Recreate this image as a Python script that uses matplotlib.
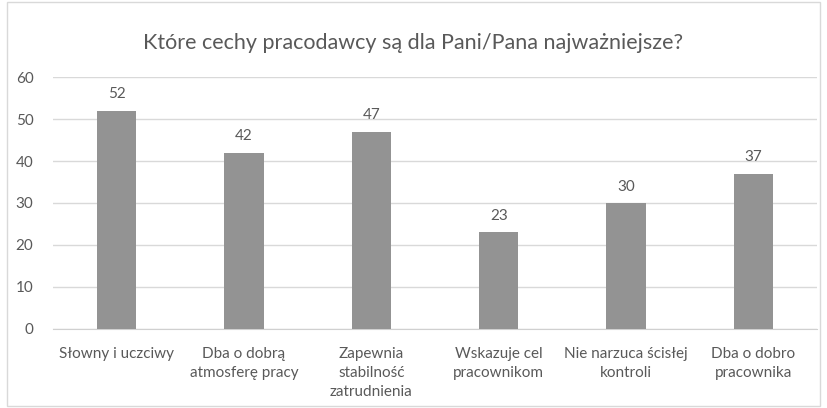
import matplotlib.pyplot as plt
from matplotlib.patches import Rectangle

categories = ["Słowny i uczciwy", "Dba o dobrą\natmosferę pracy", "Zapewnia\nstabilność\nzatrudnienia",
              "Wskazuje cel\npracownikom", "Nie narzuca ścisłej\nkontroli", "Dba o dobro\npracownika"]
values = [52, 42, 47, 23, 30, 37]

plt.rcParams['font.family'] = ['Lato', 'DejaVu Sans']
txt = '#595959'

fig = plt.figure(figsize=(8.27, 4.08), dpi=100)
ax = fig.add_axes([0.064, 0.194, 0.924, 0.617])

x = range(len(categories))
bars = ax.bar(x, values, width=0.31, color='#939393', zorder=3)
for b, v in zip(bars, values):
    ax.text(b.get_x() + b.get_width() / 2, v + 2.2, str(v), ha='center', va='bottom',
            fontsize=11, color=txt)

ax.set_xlim(-0.5, len(categories) - 0.5)
ax.set_ylim(0, 60)
ax.set_yticks(range(0, 61, 10))
ax.set_xticks(list(x))
ax.set_xticklabels(categories, fontsize=11, color=txt, linespacing=1.45)
ax.tick_params(axis='y', labelsize=11, labelcolor=txt, length=0, pad=14)
ax.tick_params(axis='x', length=0, pad=13)
ax.grid(axis='y', color='#d9d9d9', linewidth=1, zorder=0)
for s in ['left', 'right', 'top']:
    ax.spines[s].set_visible(False)
ax.spines['bottom'].set_color('#d0d0d0')

fig.text(0.5, 0.895, "Które cechy pracodawcy są dla Pani/Pana najważniejsze?", ha='center',
         va='center', fontsize=15.5, color=txt)

fig.patches.append(Rectangle((0.009, 0.005), 0.982, 0.99, transform=fig.transFigure,
                             fill=False, edgecolor='#d9d9d9', linewidth=1))

fig.savefig('out.png', dpi=100)
